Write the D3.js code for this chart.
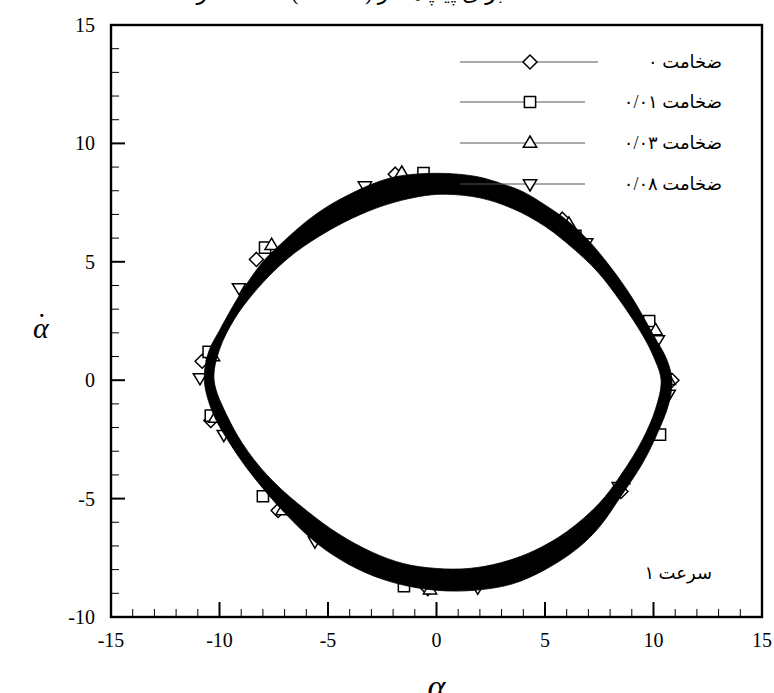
<!DOCTYPE html>
<html><head><meta charset="utf-8">
<script src="https://cdn.jsdelivr.net/npm/d3@7"></script>
<style>body{margin:0;background:#fff}svg{display:block}</style>
</head><body>
<svg id="c" width="774" height="693"></svg>
<script>
// ---- data ----
const xTicks = [-15, -10, -5, 0, 5, 10, 15];
const yTicks = [-10, -5, 0, 5, 10, 15];
const seriesNames = ["ضخامت ۰", "ضخامت ۰/۰۱", "ضخامت ۰/۰۳", "ضخامت ۰/۰۸"];
const seriesShapes = ["diamond", "square", "triUp", "triDown"];
// band outer edge (alpha, alphaDot), counter-clockwise from right tip
const outerAlpha = [10.85, 10.6, 10.0, 9.0, 8.0, 7.0, 6.0, 5.0, 4.0, 3.0, 2.0, 1.0, 0.0, -1.0, -2.0, -3.0, -4.0, -5.0, -6.0, -7.0, -8.0, -9.0, -10.0, -10.5, -10.7,
                    -10.3, -9.5, -8.5, -7.0, -5.5, -4.0, -2.5, -1.0, 0.5, 2.0, 3.5, 5.0, 6.5, 7.5, 8.5, 9.5, 10.2, 10.7];
const outerRate  = [0.0, 0.9, 1.9, 3.5, 4.8, 5.9, 6.76, 7.4, 7.95, 8.3, 8.57, 8.7, 8.74, 8.7, 8.57, 8.27, 7.85, 7.35, 6.7, 5.9, 5.0, 3.7, 2.1, 1.2, 0.0,
                    -1.4, -2.7, -4.0, -5.6, -6.9, -7.8, -8.4, -8.75, -8.9, -8.85, -8.6, -8.0, -7.1, -6.2, -4.9, -3.5, -2.2, -1.0];
// band inner edge
const innerAlpha = [10.35, 10.0, 9.5, 8.5, 7.5, 6.5, 5.0, 3.5, 2.0, 0.5, -0.5, -2.0, -3.5, -5.0, -6.5, -7.5, -8.5, -9.3, -10.0, -10.25,
                    -9.6, -8.7, -7.5, -6.0, -4.5, -3.0, -1.5, 0.0, 1.5, 3.0, 4.5, 6.0, 7.5, 8.5, 9.5, 10.1];
const innerRate  = [0.0, 1.0, 1.9, 3.3, 4.5, 5.4, 6.5, 7.25, 7.7, 7.85, 7.8, 7.5, 7.0, 6.3, 5.4, 4.6, 3.6, 2.6, 1.3, 0.0,
                    -1.6, -3.0, -4.3, -5.5, -6.5, -7.25, -7.75, -7.95, -7.95, -7.7, -7.2, -6.4, -5.2, -4.0, -2.5, -1.2];
// markers per series
const markAlpha = [
  [-1.9, -8.3, -10.8, -10.4, -7.3, -0.4, 8.5, 10.85, 9.6, 5.8],
  [-0.6, -7.9, -10.5, -10.4, -8.0, -1.5, 5.9, 10.3, 9.8, 6.4],
  [-1.6, -7.6, -10.3, -10.2, -7.1, -0.3, 8.6, 10.7, 10.1, 6.1],
  [-3.3, -9.1, -10.9, -9.8, -5.6, 1.9, 8.4, 10.7, 10.2, 6.9]
];
const markRate = [
  [8.7, 5.1, 0.8, -1.7, -5.5, -8.8, -4.7, 0.0, 2.4, 6.8],
  [8.75, 5.6, 1.2, -1.5, -4.9, -8.7, -7.0, -2.3, 2.5, 6.1],
  [8.75, 5.7, 1.0, -1.6, -5.5, -8.85, -4.2, 0.0, 2.1, 6.6],
  [8.2, 3.9, 0.1, -2.3, -6.8, -8.75, -4.5, -0.6, 1.7, 5.8]
];

// ---- drawing ----
const svg = d3.select("#c");
const L = 111, R = 762, T = 25, B = 617;
const x = d3.scaleLinear().domain([-15, 15]).range([L, R]);
const y = d3.scaleLinear().domain([-10, 15]).range([B, T]);
const serif = "'Liberation Serif','Times New Roman','DejaVu Serif',serif";
const fa = "'Liberation Serif','DejaVu Sans','Noto Sans',sans-serif";

function shapePath(shape, r) {
  const p = d3.path();
  if (shape === "diamond") { p.moveTo(0,-r); p.lineTo(r,0); p.lineTo(0,r); p.lineTo(-r,0); p.closePath(); }
  else if (shape === "square") { const s = r*0.8; p.rect(-s,-s,2*s,2*s); }
  else if (shape === "triUp") { p.moveTo(0,-r); p.lineTo(r*0.95,r*0.6); p.lineTo(-r*0.95,r*0.6); p.closePath(); }
  else { p.moveTo(0,r); p.lineTo(r*0.95,-r*0.6); p.lineTo(-r*0.95,-r*0.6); p.closePath(); }
  return p.toString();
}

// title (cut at top, as in the source)
svg.append("text").attr("x", 350).attr("y", 0).attr("text-anchor","middle")
  .attr("font-family", fa).attr("font-size", 22)
  .text("صفحه فاز (ω\u2095 / ω\u03B1) برای پیپ‌ها در");

// markers (underneath band)
const mg = svg.append("g");
markAlpha.forEach((arr, i) => {
  arr.forEach((a, j) => {
    mg.append("path").attr("d", shapePath(seriesShapes[i], 7))
      .attr("transform", `translate(${x(a)},${y(markRate[i][j])})`)
      .attr("fill", "#fff").attr("stroke", "#000").attr("stroke-width", 1.5);
  });
});

// band
const line = d3.line().x(d => x(d[0])).y(d => y(d[1])).curve(d3.curveCatmullRomClosed.alpha(0.5));
const outer = outerAlpha.map((a, i) => [a, outerRate[i]]);
const inner = innerAlpha.map((a, i) => [a, innerRate[i]]);
svg.append("path").attr("d", line(outer) + line(inner))
  .attr("fill", "#000").attr("fill-rule", "evenodd").attr("stroke", "#000").attr("stroke-width", 0.8);

// axes frame
svg.append("rect").attr("x", L).attr("y", T).attr("width", R - L).attr("height", B - T)
  .attr("fill", "none").attr("stroke", "#000").attr("stroke-width", 2.4);

// ticks
const xMinor = d3.range(-15, 16, 1), yMinor = d3.range(-10, 16, 1);
const tg = svg.append("g").attr("stroke", "#000");
xMinor.forEach(v => {
  const major = xTicks.includes(v);
  tg.append("line").attr("x1", x(v)).attr("x2", x(v)).attr("y1", B).attr("y2", B - (major ? 15 : 8))
    .attr("stroke-width", major ? 2 : 1);
});
yMinor.forEach(v => {
  const major = yTicks.includes(v);
  tg.append("line").attr("y1", y(v)).attr("y2", y(v)).attr("x1", L).attr("x2", L + (major ? 14 : 8))
    .attr("stroke-width", major ? 2 : 1);
});
xTicks.forEach(v => svg.append("text").attr("x", x(v)).attr("y", B + 30).attr("text-anchor", "middle")
  .attr("font-family", serif).attr("font-size", 20).text(v));
yTicks.forEach(v => svg.append("text").attr("x", L - 16).attr("y", y(v) + 7).attr("text-anchor", "end")
  .attr("font-family", serif).attr("font-size", 20).text(v));

// axis labels
const yl = svg.append("text").attr("x", 33).attr("y", 338)
  .attr("font-family", serif).attr("font-size", 30);
yl.append("tspan").attr("font-style", "italic").text("α");
yl.append("tspan").attr("dx", -12).attr("dy", -4).text("˙");
svg.append("text").attr("x", x(0)).attr("y", 698).attr("text-anchor", "middle")
  .attr("font-family", serif).attr("font-style", "italic").attr("font-size", 34).text("α");

// legend
const legY = [62, 102, 143, 184];
const lg = svg.append("g");
seriesNames.forEach((name, i) => {
  lg.append("line").attr("x1", 460).attr("x2", i === 0 ? 598 : 585).attr("y1", legY[i]).attr("y2", legY[i])
    .attr("stroke", "#555").attr("stroke-width", 1);
  lg.append("path").attr("d", shapePath(seriesShapes[i], 7)).attr("transform", `translate(530,${legY[i]})`)
    .attr("fill", "#fff").attr("stroke", "#000").attr("stroke-width", 1.5);
  lg.append("text").attr("x", 722).attr("y", legY[i] + 6).attr("text-anchor", "end")
    .attr("font-family", fa).attr("font-size", 18).text(name);
});

// annotation
svg.append("text").attr("x", 712).attr("y", 579).attr("text-anchor", "end")
  .attr("font-family", fa).attr("font-size", 18).text("سرعت ۱");
</script>
</body></html>
